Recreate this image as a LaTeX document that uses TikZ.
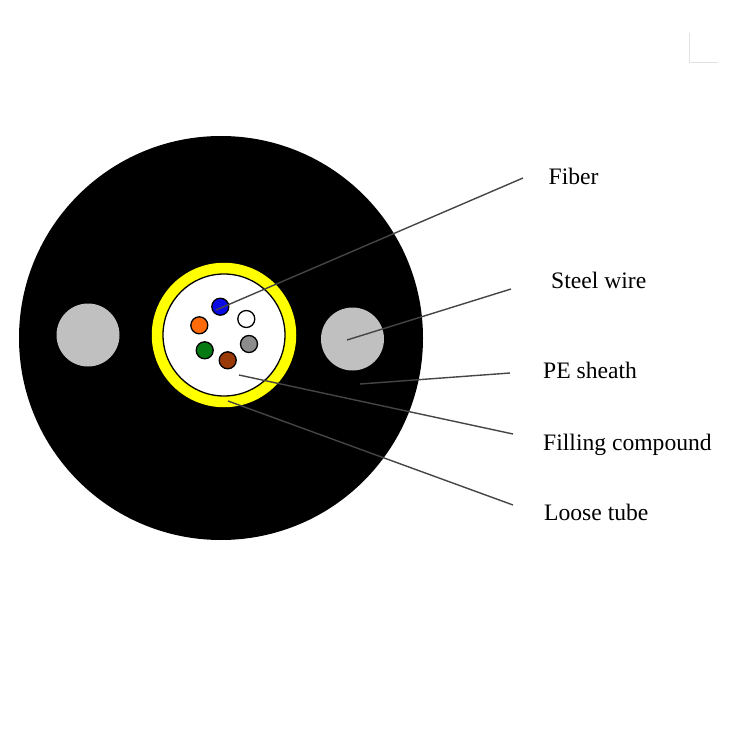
\documentclass[tikz,border=0pt]{standalone}
\usepackage{fontspec}
\setmainfont{Liberation Serif}
\definecolor{leadgrey}{HTML}{454545}
\definecolor{wiregrey}{HTML}{C0C0C0}
\definecolor{tubeyellow}{HTML}{FFFF00}
\definecolor{markgrey}{HTML}{E2E2E2}
\definecolor{fibreblue}{HTML}{0A0AE6}
\definecolor{fibreorange}{HTML}{FF6A0A}
\definecolor{fibregrey}{HTML}{8C8C8C}
\definecolor{fibregreen}{HTML}{067A12}
\definecolor{fibrebrown}{HTML}{9A3A08}
\tikzset{
  fibre/.style={circle,draw=black,line width=1.3pt,minimum size=17pt,inner sep=0pt},
  wire/.style={circle,fill=wiregrey,minimum size=63pt,inner sep=0pt},
  leader/.style={draw=leadgrey,line width=1.4pt},
  caption/.style={font=\fontsize{23.6}{26}\selectfont,anchor=base west,inner sep=0pt}
}
\begin{document}
\begin{tikzpicture}[x=1pt,y=-1pt]
\useasboundingbox (0,0) rectangle (730,730);
% page corner mark
\draw[markgrey,line width=1pt] (689,33) -- (689,62.5) -- (718,62.5);
% cable cross-section
\node[circle,fill=black,minimum size=404pt,inner sep=0pt] (sheath) at (221,338) {};
\node[wire] (wireL) at (88,335) {};
\node[wire] (wireR) at (352.5,339) {};
\node[circle,fill=tubeyellow,minimum size=144.5pt,inner sep=0pt] (tube) at (224,335) {};
\node[circle,fill=white,draw=black,line width=1.3pt,minimum size=122pt,inner sep=0pt] (gel) at (224,335) {};
% fibres
\node[fibre,fill=fibreblue] (fBlue) at (220.3,306.7) {};
\node[fibre,fill=white] (fWhite) at (246.3,319) {};
\node[fibre,fill=fibreorange] (fOrange) at (199.3,325.3) {};
\node[fibre,fill=fibregrey] (fGrey) at (249,344) {};
\node[fibre,fill=fibregreen] (fGreen) at (204.7,350.3) {};
\node[fibre,fill=fibrebrown] (fBrown) at (227.7,360.3) {};
% labels
\node[caption] (lFiber) at (548.5,184) {Fiber};
\node[caption] (lSteel) at (551,288) {Steel wire};
\node[caption] (lPE) at (543,378) {PE sheath};
\node[caption] (lFill) at (543,450) {Filling compound};
\node[caption] (lLoose) at (544,520) {Loose tube};
% leader lines
\coordinate (aFiber) at (216,310);
\coordinate (bFiber) at (523,178);
\coordinate (aSteel) at (347,340);
\coordinate (bSteel) at (511,289);
\coordinate (aPE) at (360,384);
\coordinate (bPE) at (510,373);
\coordinate (aFill) at (239,375);
\coordinate (bFill) at (513,434);
\coordinate (aLoose) at (228,401);
\coordinate (bLoose) at (513,505);
\draw[leader] (aFiber) -- (bFiber);
\draw[leader] (aSteel) -- (bSteel);
\draw[leader] (aPE) -- (bPE);
\draw[leader] (aFill) -- (bFill);
\draw[leader] (aLoose) -- (bLoose);
\end{tikzpicture}
\end{document}
